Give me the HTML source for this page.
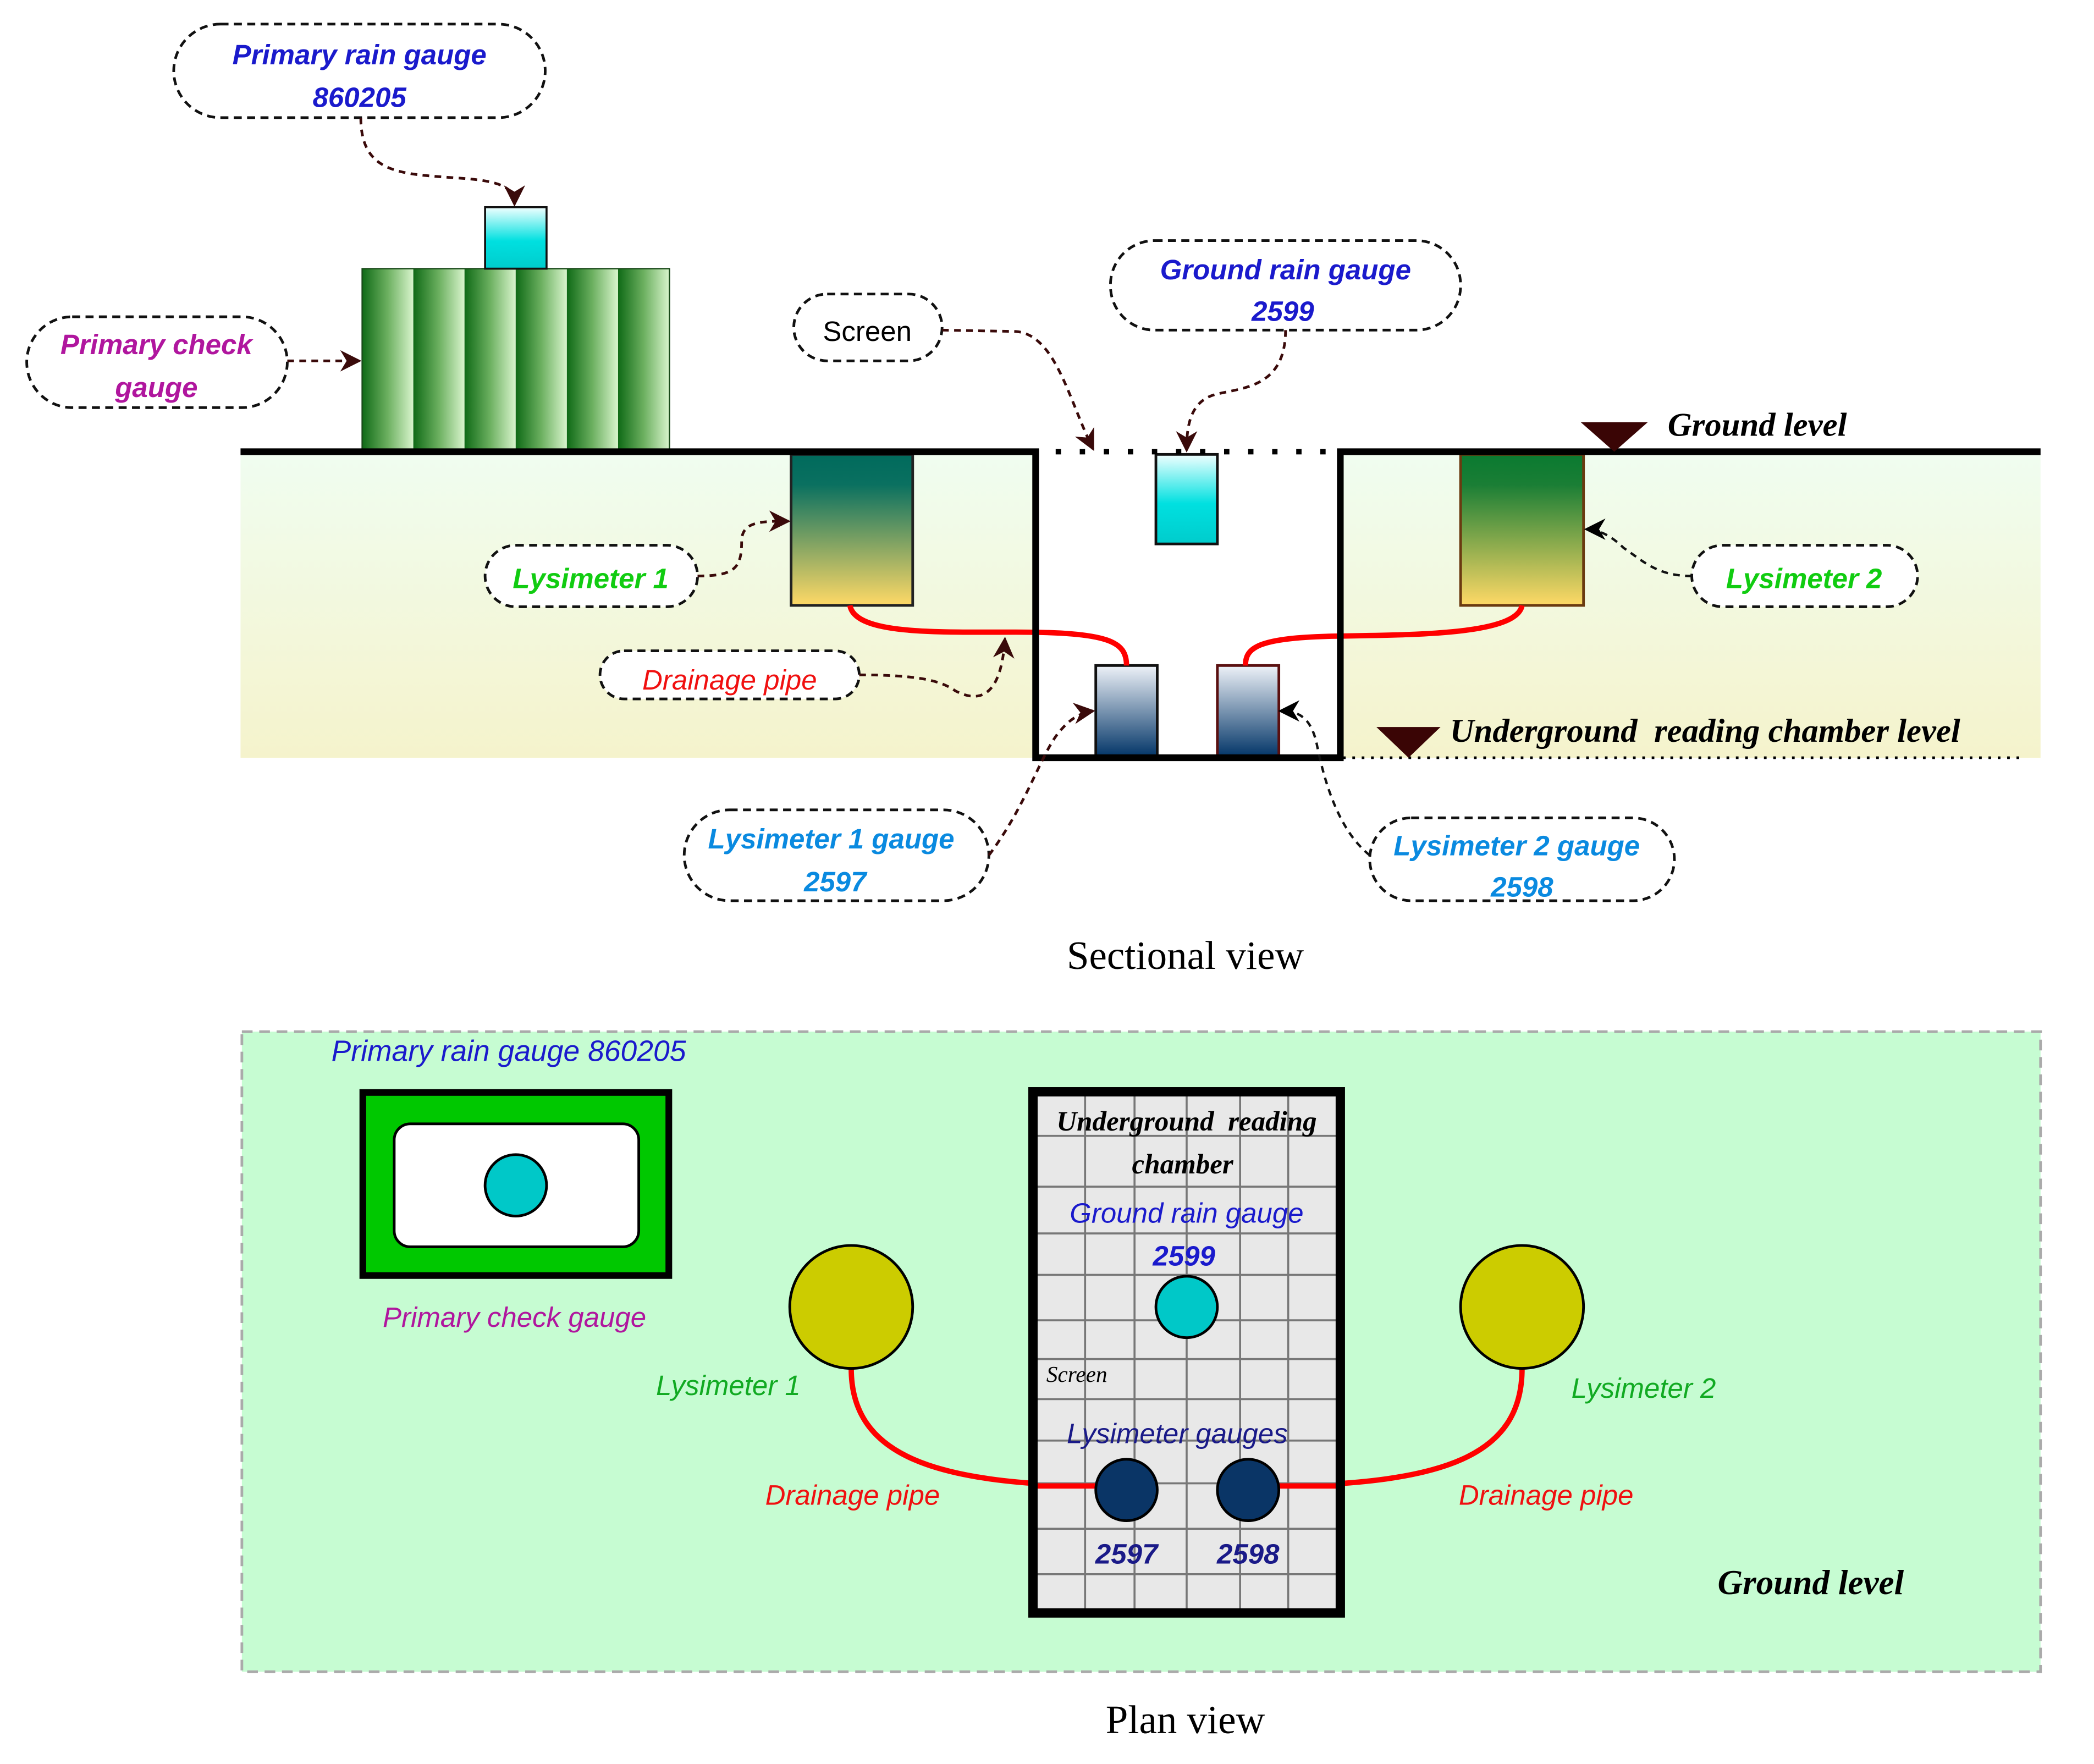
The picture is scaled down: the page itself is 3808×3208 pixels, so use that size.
<!DOCTYPE html>
<html><head><meta charset="utf-8"><style>html,body{margin:0;padding:0;background:#fff}svg{display:block}</style></head><body>
<svg xmlns="http://www.w3.org/2000/svg" width="3808" height="3208" viewBox="0 0 1567 1320">
<defs>
<linearGradient id="cyan" x1="0" y1="0" x2="0" y2="1"><stop offset="0" stop-color="#f0ffff"/><stop offset="0.55" stop-color="#00e0e0"/><stop offset="1" stop-color="#00cccc"/></linearGradient>
<linearGradient id="stripe" x1="0" y1="0" x2="1" y2="0"><stop offset="0" stop-color="#0f6a16"/><stop offset="0.5" stop-color="#6cb060"/><stop offset="1" stop-color="#d8f4cc"/></linearGradient>
<linearGradient id="soil" x1="0" y1="0" x2="0" y2="1"><stop offset="0" stop-color="#f0fdf0"/><stop offset="1" stop-color="#f5f3cc"/></linearGradient>
<linearGradient id="ly1" x1="0" y1="0" x2="0" y2="1"><stop offset="0" stop-color="#006a5c"/><stop offset="0.2" stop-color="#0a7060"/><stop offset="1" stop-color="#ffd966"/></linearGradient>
<linearGradient id="ly2" x1="0" y1="0" x2="0" y2="1"><stop offset="0" stop-color="#0a7a30"/><stop offset="0.2" stop-color="#1a7e35"/><stop offset="1" stop-color="#ffd966"/></linearGradient>
<linearGradient id="lg" x1="0" y1="0" x2="0" y2="1"><stop offset="0" stop-color="#eef2f8"/><stop offset="1" stop-color="#003366"/></linearGradient>
<marker id="ah" viewBox="0 0 10 10" refX="9" refY="5" markerWidth="16" markerHeight="16" orient="auto" markerUnits="userSpaceOnUse"><path d="M0,0 L10,5 L0,10 L3,5 Z" fill="#3a0a0a"/></marker>
<marker id="ahb" viewBox="0 0 10 10" refX="9" refY="5" markerWidth="16" markerHeight="16" orient="auto" markerUnits="userSpaceOnUse"><path d="M0,0 L10,5 L0,10 L3,5 Z" fill="#000"/></marker>
</defs>
<style>
.cb{fill:#fff;stroke:#111;stroke-width:2;stroke-dasharray:6,4}
.ar{fill:none;stroke:#3a0a0a;stroke-width:2;stroke-dasharray:5,4;marker-end:url(#ah)}
.arb{fill:none;stroke:#111;stroke-width:1.8;stroke-dasharray:5,4;marker-end:url(#ahb)}
.bi{font-family:"Liberation Sans",sans-serif;font-weight:bold;font-style:italic;font-size:21px;text-anchor:middle}
.it{font-family:"Liberation Sans",sans-serif;font-style:italic;font-size:21px;text-anchor:middle}
.sv{font-family:"Liberation Serif",serif;font-style:italic;font-weight:bold}
</style>
<rect x="180" y="340" width="595" height="227" fill="url(#soil)"/>
<rect x="1003" y="340" width="524" height="227" fill="url(#soil)"/>
<g>
<rect x="271" y="201" width="38.3" height="137" fill="url(#stripe)"/>
<rect x="309.3" y="201" width="38.3" height="137" fill="url(#stripe)"/>
<rect x="347.6" y="201" width="38.3" height="137" fill="url(#stripe)"/>
<rect x="385.9" y="201" width="38.3" height="137" fill="url(#stripe)"/>
<rect x="424.2" y="201" width="38.3" height="137" fill="url(#stripe)"/>
<rect x="462.5" y="201" width="38.5" height="137" fill="url(#stripe)"/>
<rect x="271" y="201" width="230" height="137" fill="none" stroke="#1a4a1a" stroke-width="1"/>
</g>
<rect x="363" y="155" width="46" height="46" fill="url(#cyan)" stroke="#111" stroke-width="1.5"/>
<rect x="592" y="340" width="91" height="113" fill="url(#ly1)" stroke="#222" stroke-width="2"/>
<rect x="1093" y="340" width="92" height="113" fill="url(#ly2)" stroke="#6a3a10" stroke-width="2"/>
<rect x="865" y="340" width="46" height="67" fill="url(#cyan)" stroke="#111" stroke-width="2"/>
<rect x="820" y="498" width="46" height="69" fill="url(#lg)" stroke="#111" stroke-width="2"/>
<rect x="911" y="498" width="46" height="69" fill="url(#lg)" stroke="#5a1010" stroke-width="2"/>
<path d="M636,453 C640,475 700,473 760,473 C830,473 843,480 843,498" fill="none" stroke="#f00" stroke-width="4"/>
<path d="M1139,453 C1135,475 1060,475 1000,476 C940,477 932,485 932,498" fill="none" stroke="#f00" stroke-width="4"/>
<path d="M180,338 H775 V567 H1003 V338 H1527" fill="none" stroke="#000" stroke-width="5"/>
<line x1="790" y1="338" x2="1000" y2="338" stroke="#000" stroke-width="4" stroke-dasharray="4,14"/>
<line x1="1005" y1="567" x2="1515" y2="567" stroke="#000" stroke-width="2" stroke-dasharray="2,5"/>
<path d="M1183,316 L1233,316 L1208,338 Z" fill="#3a0505"/>
<text x="1248" y="326" class="sv" font-size="25">Ground level</text>
<path d="M1030,544 L1078,544 L1054,567 Z" fill="#3a0505"/>
<text x="1085" y="555" class="sv" font-size="25" xml:space="preserve">Underground  reading chamber level</text>
<rect x="130" y="18" width="278" height="70" rx="35" class="cb"/>
<text x="269" y="48" class="bi" fill="#1a1acc">Primary rain gauge</text>
<text x="269" y="80" class="bi" fill="#1a1acc">860205</text>
<path d="M270,88 C270,130 300,130 340,133 C375,135 385,140 385,153" class="ar"/>
<rect x="20" y="237" width="195" height="68" rx="34" class="cb"/>
<text x="117" y="265" class="bi" fill="#b0169e">Primary check</text>
<text x="117" y="297" class="bi" fill="#b0169e">gauge</text>
<path d="M215,270 L269,270" class="ar"/>
<rect x="594" y="220" width="111" height="50" rx="25" class="cb"/>
<text x="649" y="255" font-family="Liberation Sans,sans-serif" font-size="21" text-anchor="middle">Screen</text>
<path d="M705,247 L760,248 C790,250 800,300 818,336" class="ar"/>
<rect x="831" y="180" width="262" height="67" rx="33" class="cb"/>
<text x="962" y="209" class="bi" fill="#1a1acc">Ground rain gauge</text>
<text x="960" y="240" class="bi" fill="#1a1acc">2599</text>
<path d="M962,247 C962,290 930,290 910,295 C890,300 888,320 888,337" class="ar"/>
<rect x="363" y="408" width="159" height="46" rx="23" class="cb"/>
<text x="442" y="440" class="bi" fill="#11cc11">Lysimeter 1</text>
<path d="M522,431 C550,431 555,425 555,405 C555,390 570,390 590,390" class="ar"/>
<rect x="449" y="487" width="194" height="36" rx="18" class="cb"/>
<text x="546" y="516" class="it" fill="#f01010">Drainage pipe</text>
<path d="M643,505 C690,505 705,510 715,517 C740,530 750,510 752,478" class="ar"/>
<rect x="1266" y="408" width="169" height="46" rx="23" class="cb"/>
<text x="1350" y="440" class="bi" fill="#11cc11">Lysimeter 2</text>
<path d="M1266,431 C1240,431 1230,420 1215,410 C1205,400 1195,396 1187,396" class="arb"/>
<rect x="512" y="606" width="228" height="68" rx="34" class="cb"/>
<text x="622" y="635" class="bi" fill="#0a8ae0">Lysimeter 1 gauge</text>
<text x="625" y="667" class="bi" fill="#0a8ae0">2597</text>
<path d="M740,640 C770,600 780,560 795,545 C802,537 810,533 818,532" class="ar"/>
<rect x="1025" y="612" width="228" height="62" rx="31" class="cb"/>
<text x="1135" y="640" class="bi" fill="#0a8ae0">Lysimeter 2 gauge</text>
<text x="1139" y="671" class="bi" fill="#0a8ae0">2598</text>
<path d="M1025,640 C1000,620 990,580 985,555 C980,535 970,532 958,532" class="arb"/>
<text x="887" y="725" font-family="Liberation Serif,serif" font-size="30" text-anchor="middle">Sectional view</text>
<rect x="181" y="772" width="1346" height="479" fill="#c6fcd2" stroke="#aaa" stroke-width="2" stroke-dasharray="8,5"/>
<text x="248" y="794" font-family="Liberation Sans,sans-serif" font-style="italic" font-size="22" fill="#1a1acc">Primary rain gauge 860205</text>
<rect x="271.5" y="817.5" width="229" height="137" fill="#00c800" stroke="#000" stroke-width="5"/>
<rect x="295" y="841" width="183" height="92" rx="12" fill="#fff" stroke="#000" stroke-width="2"/>
<circle cx="386" cy="887" r="23" fill="#00c8c8" stroke="#000" stroke-width="2"/>
<text x="385" y="993" class="it" font-size="22" fill="#b0169e">Primary check gauge</text>
<path d="M637,1024 C637,1090 700,1110 820,1112" fill="none" stroke="#f00" stroke-width="4"/>
<path d="M1139,1024 C1139,1090 1080,1110 957,1112" fill="none" stroke="#f00" stroke-width="4"/>
<circle cx="637" cy="978" r="46" fill="#cccc00" stroke="#000" stroke-width="2"/>
<circle cx="1139" cy="978" r="46" fill="#cccc00" stroke="#000" stroke-width="2"/>
<text x="545" y="1044" class="it" font-size="22" fill="#11aa22">Lysimeter 1</text>
<text x="1230" y="1046" class="it" font-size="22" fill="#11aa22">Lysimeter 2</text>
<text x="638" y="1126" class="it" font-size="22" fill="#f01010">Drainage pipe</text>
<text x="1157" y="1126" class="it" font-size="22" fill="#f01010">Drainage pipe</text>
<rect x="773" y="817" width="230" height="390" fill="#e8e8e8"/>
<g stroke="#777" stroke-width="1.5">
<line x1="812" y1="817" x2="812" y2="1207"/><line x1="849" y1="817" x2="849" y2="1207"/><line x1="888" y1="817" x2="888" y2="1207"/><line x1="928" y1="817" x2="928" y2="1207"/><line x1="964" y1="817" x2="964" y2="1207"/>
<line x1="773" y1="850" x2="1003" y2="850"/><line x1="773" y1="888" x2="1003" y2="888"/><line x1="773" y1="923" x2="1003" y2="923"/><line x1="773" y1="954" x2="1003" y2="954"/><line x1="773" y1="988" x2="1003" y2="988"/><line x1="773" y1="1017" x2="1003" y2="1017"/><line x1="773" y1="1047" x2="1003" y2="1047"/><line x1="773" y1="1078" x2="1003" y2="1078"/><line x1="773" y1="1110" x2="1003" y2="1110"/><line x1="773" y1="1144" x2="1003" y2="1144"/><line x1="773" y1="1178" x2="1003" y2="1178"/>
</g>
<path d="M775,1112 L820,1112 M957,1112 L1001,1112" stroke="#f00" stroke-width="4"/>
<rect x="773" y="817" width="230" height="390" fill="none" stroke="#000" stroke-width="7"/>
<text x="888" y="846" class="sv" font-size="21" text-anchor="middle" xml:space="preserve">Underground  reading</text>
<text x="885" y="878" class="sv" font-size="21" text-anchor="middle">chamber</text>
<text x="888" y="915" class="it" fill="#1a1acc">Ground rain gauge</text>
<text x="886" y="947" class="bi" fill="#1a1acc">2599</text>
<circle cx="888" cy="978" r="23" fill="#00c8c8" stroke="#000" stroke-width="2"/>
<text x="783" y="1034" font-family="Liberation Serif,serif" font-style="italic" font-size="17">Screen</text>
<text x="881" y="1080" class="it" fill="#1a1a88">Lysimeter gauges</text>
<circle cx="843" cy="1115" r="23" fill="#0a3566" stroke="#000" stroke-width="2"/>
<circle cx="934" cy="1115" r="23" fill="#0a3566" stroke="#000" stroke-width="2"/>
<text x="843" y="1170" class="bi" fill="#1a1a88">2597</text>
<text x="934" y="1170" class="bi" fill="#1a1a88">2598</text>
<text x="1355" y="1193" class="sv" font-size="26" text-anchor="middle">Ground level</text>
<text x="887" y="1297" font-family="Liberation Serif,serif" font-size="30" text-anchor="middle">Plan view</text>
</svg>
</body></html>
